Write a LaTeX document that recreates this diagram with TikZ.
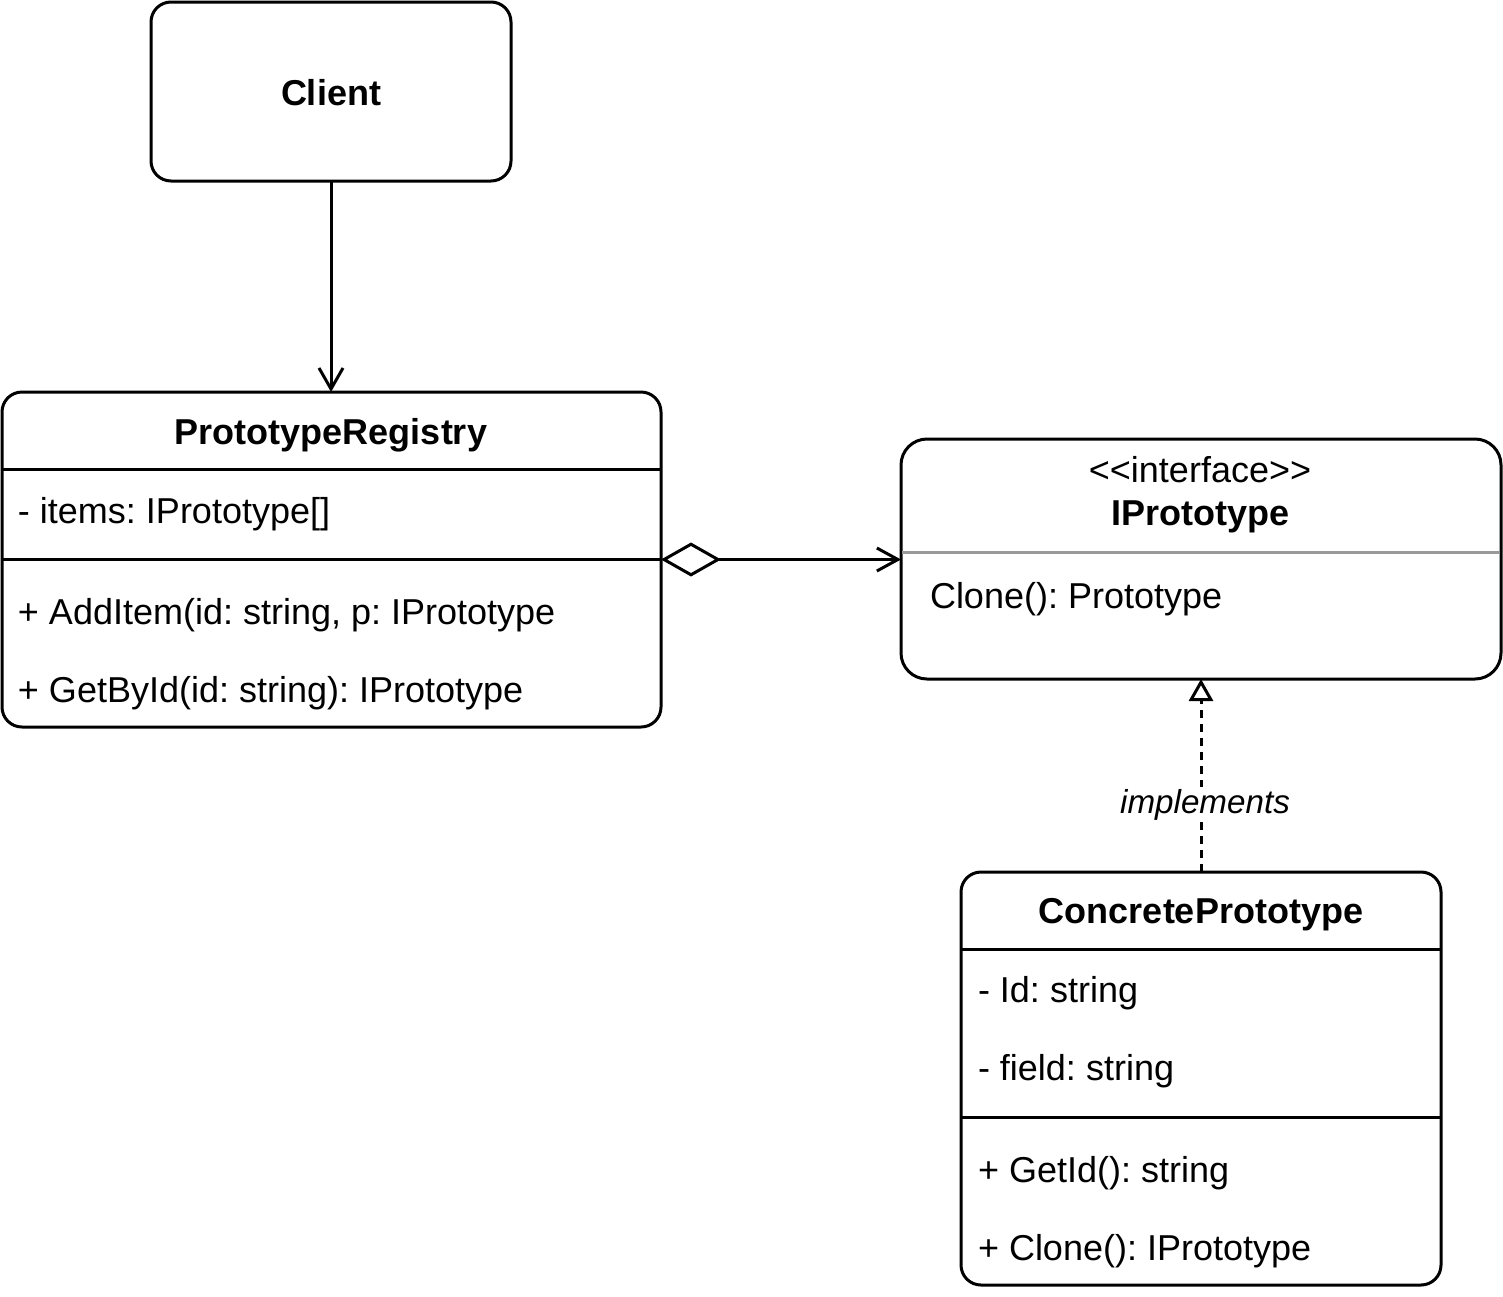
\documentclass[tikz,border=0pt]{standalone}
\usepackage{fontspec}
\setmainfont{Liberation Sans}
\usetikzlibrary{arrows.meta,fit}
\begin{document}
\frenchspacing
\begin{tikzpicture}[x=0.5pt,y=-0.5pt,
  every node/.style={inner sep=0pt,outer sep=0pt},
  classbox/.style={draw,line width=1.5pt,rounded corners=10pt,fill=white},
  sepline/.style={line width=1.5pt},
  txt/.style={anchor=base west,font=\fontsize{18pt}{20pt}\selectfont},
  ctxt/.style={anchor=base,font=\fontsize{18pt}{20pt}\selectfont},
  btxt/.style={anchor=base,font=\fontsize{18pt}{20pt}\selectfont\bfseries},
  assoc/.style={line width=1.5pt,-{Straight Barb[length=10.5pt,width=12pt,line width=1.5pt]}},
  aggr/.style={line width=1.5pt,{Diamond[open,length=30pt,width=17pt,line width=1.5pt]}-{Straight Barb[length=10.5pt,width=11.5pt,line width=1.5pt]}},
  realize/.style={line width=1.5pt,dash pattern=on 4pt off 3pt,-{Triangle[open,length=11pt,width=12pt,line width=1.5pt]}}
]
\useasboundingbox (0,0) rectangle (1503,1296);

% Client
\node[classbox,fit={(151,2) (511,181)}] (client) {};
\node[btxt] (clientt) at (331,105) {Client};

% PrototypeRegistry
\node[classbox,fit={(2,392) (661,727)}] (reg) {};
\draw[sepline] (2,469) -- (661,469);
\draw[sepline] (2,559) -- (661,559);
\node[btxt] (regt) at (331,444) {PrototypeRegistry};
\node[txt] (rega) at (18,523) {- items: IPrototype[]};
\node[txt] (regm1) at (18,624) {+ AddItem(id: string, p: IPrototype};
\node[txt] (regm2) at (18,702) {+ GetById(id: string): IPrototype};

% IPrototype
\node[classbox,rounded corners=13pt,fit={(901,439) (1501,679)}] (ip) {};
\draw[line width=1.5pt,color=black!40] (902,552.5) -- (1500,552.5);
\node[ctxt] (ips) at (1200,482) {{<}{<}interface{>}{>}};
\node[btxt] (ipt) at (1200,525) {IPrototype};
\node[txt] (ipm) at (930,608) {Clone(): Prototype};

% ConcretePrototype
\node[classbox,fit={(961,872) (1441,1285)}] (cp) {};
\draw[sepline] (961,949) -- (1441,949);
\draw[sepline] (961,1117) -- (1441,1117);
\node[btxt] (cpt) at (1201,923) {ConcretePrototype};
\node[txt] (cpa1) at (978,1002) {- Id: string};
\node[txt] (cpa2) at (978,1080) {- field: string};
\node[txt] (cpm1) at (978,1182) {+ GetId(): string};
\node[txt] (cpm2) at (978,1260) {+ Clone(): IPrototype};

% connectors
\draw[assoc] (client.south) -- (client.south |- reg.north);
\draw[aggr] (reg.east) -- (reg.east -| ip.west);
\draw[realize] (cp.north) -- (cp.north |- ip.south);
\node[fill=white,inner sep=1pt,anchor=base,font=\fontsize{16.6pt}{18pt}\selectfont\itshape] (impl) at (1205,813) {implements};
\end{tikzpicture}
\end{document}
